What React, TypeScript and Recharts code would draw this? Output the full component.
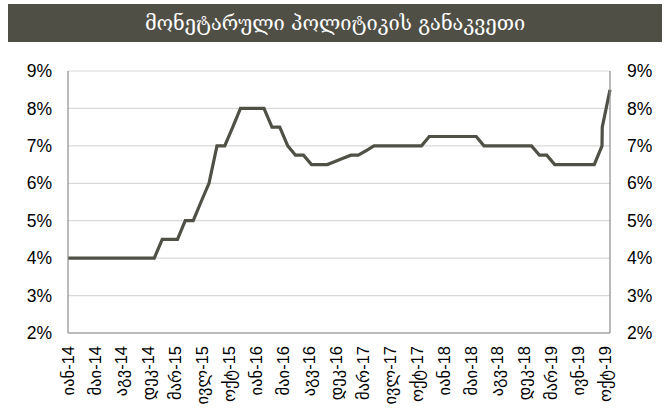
import React from "react";
import { LineChart, Line, XAxis, YAxis, CartesianGrid } from "recharts";

// monthly policy rate, end of month, Jan-14 .. Oct-19
const monthRates = [
  4, 4, 4, 4, 4, 4, 4, 4, 4, 4, 4, 4,
  4.5, 4.5, 4.5, 5, 5, 5.5, 6, 7, 7, 7.5, 8, 8,
  8, 8, 7.5, 7.5, 7, 6.75, 6.75, 6.5, 6.5, 6.5, 6.58, 6.67,
  6.75, 6.75, 6.875, 7, 7, 7, 7, 7, 7, 7, 7.25, 7.25,
  7.25, 7.25, 7.25, 7.25, 7.25, 7, 7, 7, 7, 7, 7, 7,
  6.75, 6.75, 6.5, 6.5, 6.5, 6.5, 6.5, 6.5, 7, 8.5,
];
// mid-step point in autumn 2019
const extraDates = [Date.UTC(2019, 9, 1)];
const extraRates = [7.5];

const tickLabels = [
  "იან-14", "მაი-14", "აგვ-14", "დეკ-14", "მარ-15", "ივლ-15", "ოქტ-15",
  "იან-16", "მაი-16", "აგვ-16", "დეკ-16", "მარ-17", "ივლ-17", "ოქტ-17",
  "იან-18", "მაი-18", "აგვ-18", "დეკ-18", "მარ-19", "ივნ-19", "ოქტ-19",
];
const yTicks = [2, 3, 4, 5, 6, 7, 8, 9];

const DAY = 86400000;
const START = Date.UTC(2014, 0, 31);
const TICK_STEP = 104; // days between axis labels

const data = [
  ...monthRates.map((rate, i) => ({ day: (Date.UTC(2014, i + 1, 0) - START) / DAY, rate })),
  ...extraDates.map((d, i) => ({ day: (d - START) / DAY, rate: extraRates[i] })),
].sort((a, b) => a.day - b.day);

const lastDay = data[data.length - 1].day;
const xTicks = tickLabels.map((_, i) => i * TICK_STEP);

const LINE_COLOR = "#505047";
const AXIS_FONT = "'Liberation Sans', Arial, 'DejaVu Sans', sans-serif";

const XTick = ({ x, y, index }: any) => (
  <text
    transform={`translate(${x},${y + 5}) rotate(-90)`}
    textAnchor="end"
    dy="0.35em"
    fontSize={16.5}
    fill="#000"
    fontFamily={AXIS_FONT}
  >
    {tickLabels[index]}
  </text>
);

export default function App() {
  return (
    <div style={{ position: "absolute", left: 0, top: 0, width: 670, height: 410, background: "#fff" }}>
      <div
        style={{
          position: "absolute",
          left: 8,
          top: 4,
          width: 654,
          height: 38,
          background: "#4f4f46",
          color: "#fff",
          fontFamily: "'DejaVu Serif', 'DejaVu Sans', serif",
          fontSize: 20,
          lineHeight: "38px",
          textAlign: "center",
        }}
      >
        მონეტარული პოლიტიკის განაკვეთი
      </div>
      <div style={{ position: "absolute", left: 0, top: 0 }}>
        <LineChart width={670} height={410} data={data} margin={{ top: 71, right: 0, left: 0, bottom: 0 }}>
          <CartesianGrid horizontal vertical={false} stroke="#d9d9d9" strokeWidth={1.2} yAxisId="left" />
          <XAxis
            dataKey="day"
            type="number"
            domain={[0, lastDay]}
            ticks={xTicks}
            interval={0}
            tick={<XTick />}
            tickLine={false}
            axisLine={{ stroke: "#8c8c8c", strokeWidth: 1.2 }}
            height={77}
          />
          <YAxis
            yAxisId="left"
            domain={[2, 9]}
            ticks={yTicks}
            tickFormatter={(v) => `${v}%`}
            tickLine={false}
            tickSize={0}
            tickMargin={16}
            width={68}
            axisLine={{ stroke: "#8c8c8c", strokeWidth: 1.2 }}
            tick={{ fill: "#000", fontSize: 17.5, fontFamily: AXIS_FONT }}
          />
          <YAxis
            yAxisId="right"
            orientation="right"
            domain={[2, 9]}
            ticks={yTicks}
            tickFormatter={(v) => `${v}%`}
            tickLine={false}
            tickSize={0}
            tickMargin={17}
            width={60}
            axisLine={{ stroke: "#8c8c8c", strokeWidth: 1.2 }}
            tick={{ fill: "#000", fontSize: 17.5, fontFamily: AXIS_FONT }}
          />
          {/* mirror series so the right axis gets its ticks */}
          <Line
            yAxisId="right"
            type="linear"
            dataKey="rate"
            stroke="none"
            dot={false}
            activeDot={false}
            isAnimationActive={false}
          />
          <Line
            yAxisId="left"
            type="linear"
            dataKey="rate"
            stroke={LINE_COLOR}
            strokeWidth={3.2}
            dot={false}
            isAnimationActive={false}
          />
        </LineChart>
      </div>
    </div>
  );
}
